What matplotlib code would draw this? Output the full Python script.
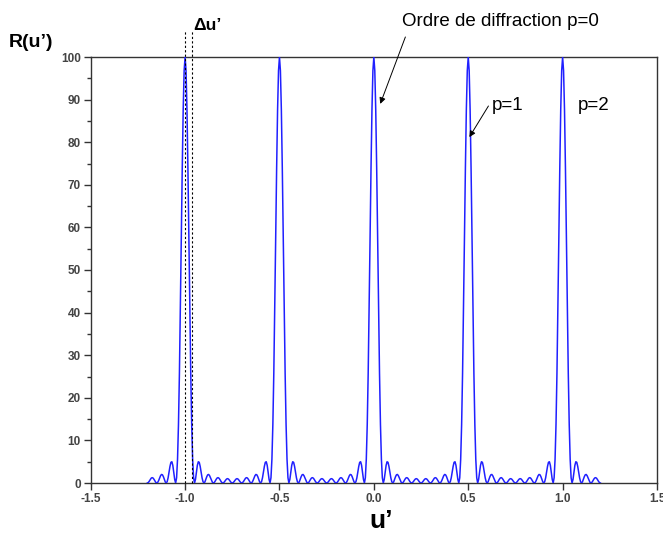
"""Grating diffraction pattern R(u') with its orders p = 0, 1, 2."""

import matplotlib
matplotlib.use("Agg")
import matplotlib.pyplot as plt
import numpy as np
from matplotlib.ticker import MultipleLocator

plt.rcParams.update({
    "font.family": ["Liberation Sans", "DejaVu Sans"],
    "font.size": 8,
    "axes.linewidth": 1.0,
    "axes.edgecolor": "#333333",
    "xtick.color": "#333333",
    "ytick.color": "#333333",
    "xtick.labelcolor": "#444444",
    "ytick.labelcolor": "#444444",
})

# Diffraction orders (centres of the main peaks)
orders = [-1.0, -0.5, 0.0, 0.5, 1.0]
u_max = 1.2

# One half period of the pattern, u' offset 0 .. 0.25 from an order, step 0.005
offsets = np.linspace(0.0, 0.25, 51)
half_profile = [
    100.0, 96.79, 87.63, 73.90, 57.58, 40.86, 25.76, 13.75, 5.586, 1.227,
    0.0, 0.832, 2.549, 4.150, 4.989, 4.852, 3.897, 2.526, 1.203, 0.302,
    0.0, 0.254, 0.850, 1.497, 1.930, 2.000, 1.702, 1.163, 0.582, 0.153,
    0.0, 0.140, 0.485, 0.883, 1.178, 1.260, 1.105, 0.777, 0.400, 0.108,
    0.0, 0.104, 0.368, 0.687, 0.937, 1.025, 0.919, 0.660, 0.347, 0.0956,
    0.0,
]

# Delta u' marker lines
delta_u = [-1.0, -0.965]

# Build the full curve from the tabulated half period around every order
prof = np.asarray(half_profile)
full_off = np.concatenate([-offsets[:0:-1], offsets])
full_r = np.concatenate([prof[:0:-1], prof])
u = np.concatenate([p + full_off for p in orders])
r = np.tile(full_r, len(orders))
keep = np.abs(u) <= u_max + 1e-9
u, r = u[keep], r[keep]

W, H = 663, 534
fig = plt.figure(figsize=(W / 100, H / 100), dpi=100)
ax = fig.add_axes([90.7 / W, 1 - 483 / H, (657 - 90.7) / W, (483 - 57) / H])

ax.plot(u, r, color="#2020ff", lw=1.1, zorder=3)

for x in delta_u:
    ax.plot([x, x], [0, 106.0], color="black", lw=0.8,
            linestyle=(0, (2, 2)), clip_on=False, zorder=4)

ax.set_xlim(-1.5, 1.5)
ax.set_ylim(0, 100)
ax.xaxis.set_major_locator(MultipleLocator(0.5))
ax.yaxis.set_major_locator(MultipleLocator(10))
ax.yaxis.set_minor_locator(MultipleLocator(5))
ax.xaxis.set_major_formatter(lambda v, pos: f"{v:.1f}")
ax.tick_params(axis="both", which="major", direction="out", length=5,
               width=1.0, labelsize=8.5, pad=2)
ax.tick_params(axis="y", which="minor", direction="out", length=3, width=1.0)
for lab in ax.get_xticklabels() + ax.get_yticklabels():
    lab.set_fontweight("bold")

# Axis titles
fig.text(31 / W, 1 - 42.5 / H, "R(u’)", fontsize=14, fontweight="bold",
         ha="center", va="center")
fig.text(381 / W, 1 - 521 / H, "u’", fontsize=19, fontweight="bold",
         ha="center", va="center")
fig.text(207 / W, 1 - 25 / H, "Δu’", fontsize=12.5, fontweight="bold",
         ha="center", va="center")

# Order labels and arrows
fig.text(500 / W, 1 - 22 / H, "Ordre de diffraction p=0", fontsize=13.5,
         ha="center", va="center")
fig.text(508 / W, 1 - 106 / H, "p=1", fontsize=13.5, ha="center", va="center")
fig.text(594 / W, 1 - 105 / H, "p=2", fontsize=13.5, ha="center", va="center")

arrow = dict(arrowstyle="-|>", color="black", lw=0.7, mutation_scale=9,
             shrinkA=0, shrinkB=0)
ax.annotate("", xy=(0.034, 89.0), xytext=(0.167, 104.7), arrowprops=arrow,
            annotation_clip=False)
ax.annotate("", xy=(0.506, 81.2), xytext=(0.607, 88.5), arrowprops=arrow,
            annotation_clip=False)

fig.savefig("out.png", dpi=100)
